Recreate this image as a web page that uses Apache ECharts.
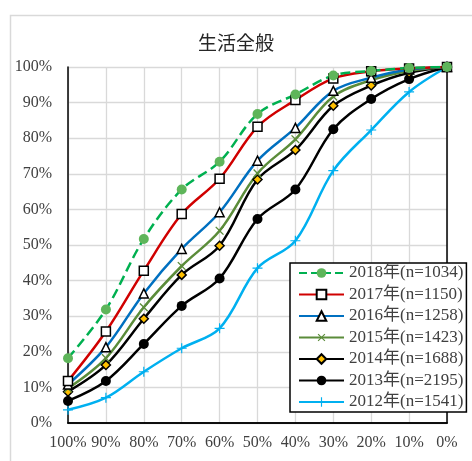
<!DOCTYPE html>
<html>
<head>
<meta charset="utf-8">
<script src="https://cdn.jsdelivr.net/npm/echarts@6/dist/echarts.min.js"></script>
<style>
html,body{margin:0;padding:0;background:#fff;}
#c{width:472px;height:461px;}
</style>
</head>
<body>
<div id="c"></div>
<script>
const categories = ['100%','90%','80%','70%','60%','50%','40%','30%','20%','10%','0%'];
const yTicks = [0,10,20,30,40,50,60,70,80,90,100];
const seriesNames = ['2018年(n=1034)','2017年(n=1150)','2016年(n=1258)','2015年(n=1423)','2014年(n=1688)','2013年(n=2195)','2012年(n=1541)'];
const v2018 = [18.2, 31.9, 51.7, 65.6, 73.4, 86.8, 92.3, 97.6, 98.9, 99.7, 100];
const v2017 = [11.8, 25.7, 42.8, 58.7, 68.6, 83.2, 90.7, 96.8, 98.8, 99.6, 100];
const v2016 = [10.8, 21.3, 36.4, 48.9, 59.2, 73.7, 82.9, 93.3, 97.0, 99.3, 100];
const v2015 = [9.7, 18.2, 32.5, 44.1, 54.0, 70.1, 79.7, 91.7, 96.3, 98.9, 100];
const v2014 = [8.8, 16.3, 29.3, 41.6, 49.8, 68.4, 76.7, 89.1, 94.8, 98.4, 100];
const v2013 = [6.2, 11.8, 22.2, 32.9, 40.6, 57.3, 65.6, 82.5, 91.0, 96.6, 100];
const v2012 = [3.7, 7.1, 14.4, 21.0, 26.6, 43.5, 51.2, 70.9, 82.3, 93.0, 100];

const serif = '"Liberation Serif","DejaVu Serif","Noto Sans CJK JP",serif';
const plusPath = 'path://M4.4,0h1.2v4.4h4.4v1.2h-4.4v4.4h-1.2v-4.4h-4.4v-1.2h4.4z';

function mk(name, data, color, lineType, symbol, size, fill, border, rotate) {
  return {
    name: name, type: 'line', data: data, smooth: 0.35,
    xAxisIndex: 0, yAxisIndex: 0,
    lineStyle: {color: color, width: 2.5, type: lineType},
    symbol: symbol, symbolSize: size, symbolRotate: rotate || 0,
    showAllSymbol: true,
    itemStyle: {color: fill, borderColor: border, borderWidth: border === fill ? 0 : 1.5},
    emphasis: {disabled: true}
  };
}

const chart = echarts.init(document.getElementById('c'), null, {renderer: 'canvas'});
chart.setOption({
  animation: false,
  backgroundColor: '#fff',
  graphic: [{
    type: 'rect', left: 8, top: 13, silent: true,
    shape: {width: 480, height: 470},
    style: {fill: 'none', stroke: '#D9D9D9', lineWidth: 1.5}
  }],
  title: {
    text: '生活全般', left: 'center', top: 33,
    textStyle: {fontFamily: '"Noto Sans CJK JP",sans-serif', fontSize: 19, fontWeight: 'normal', color: '#262626'},
    padding: 0, itemGap: 0
  },
  grid: {left: 68, right: 25, top: 67, bottom: 38, containLabel: false},
  legend: {
    orient: 'vertical', left: 290, top: 263,
    data: seriesNames,
    itemWidth: 45, itemHeight: 12, itemGap: 3.5,
    backgroundColor: '#fff', borderColor: '#000', borderWidth: 1.5,
    padding: [1, 3, 1, 8],
    textStyle: {fontFamily: serif, fontSize: 17, color: '#404040', lineHeight: 18},
    selectedMode: false
  },
  xAxis: [{
    type: 'category', data: categories, boundaryGap: false,
    axisLine: {lineStyle: {color: '#000', width: 1.5}},
    axisTick: {show: false},
    axisLabel: {fontFamily: serif, fontSize: 16, color: '#404040', margin: 12, interval: 0},
    splitLine: {show: true, lineStyle: {color: '#D9D9D9', width: 1.3}}
  }, {
    type: 'category', data: categories, boundaryGap: false, position: 'top',
    axisLine: {lineStyle: {color: '#000', width: 1.5}},
    axisTick: {show: false}, axisLabel: {show: false}, splitLine: {show: false}
  }],
  yAxis: [{
    type: 'value', min: 0, max: 100, interval: 10,
    axisLine: {show: true, lineStyle: {color: '#000', width: 1.5}},
    axisTick: {show: false},
    axisLabel: {fontFamily: serif, fontSize: 16, color: '#404040', margin: 16,
      formatter: function (v) { return yTicks.indexOf(v) >= 0 ? v + '%' : ''; }},
    splitLine: {show: true, lineStyle: {color: '#D9D9D9', width: 1.3}}
  }, {
    type: 'value', min: 0, max: 100, interval: 10, position: 'right',
    axisLine: {show: true, lineStyle: {color: '#000', width: 1.5}},
    axisTick: {show: false}, axisLabel: {show: false}, splitLine: {show: false}
  }],
  series: [
    mk(seriesNames[6], v2012, '#00B0F0', 'solid', plusPath, 10, '#00B0F0', '#00B0F0'),
    mk(seriesNames[5], v2013, '#000000', 'solid', 'circle', 10, '#000000', '#000000'),
    mk(seriesNames[4], v2014, '#000000', 'solid', 'diamond', 9, '#FFC000', '#000000'),
    mk(seriesNames[3], v2015, '#5B8C3A', 'solid', plusPath, 11, '#5B8C3A', '#5B8C3A', 45),
    mk(seriesNames[2], v2016, '#0070C0', 'solid', 'triangle', 9, '#FFFFFF', '#000000'),
    mk(seriesNames[1], v2017, '#D00000', 'solid', 'rect', 9, '#FFFFFF', '#000000'),
    mk(seriesNames[0], v2018, '#00B050', 'dashed', 'circle', 10, '#5EB55A', '#5EB55A')
  ]
});
</script>
</body>
</html>
